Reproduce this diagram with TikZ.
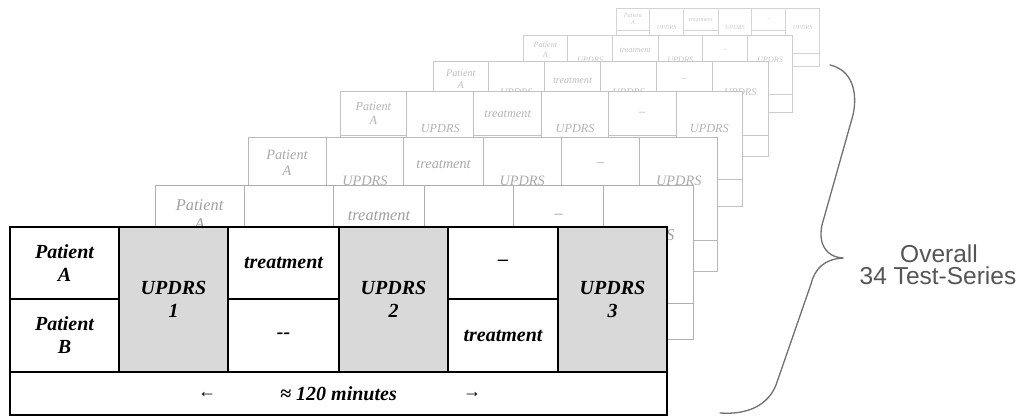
\documentclass[tikz,border=0pt]{standalone}
\usepackage{fontspec}
\setmainfont{Liberation Serif}
\newfontfamily\labelsans{Liberation Sans}
\definecolor{cellgray}{HTML}{D9D9D9}
\definecolor{bracegray}{HTML}{707070}
\definecolor{labelgray}{HTML}{555555}
\definecolor{lineA}{HTML}{AFAFAF}\definecolor{textA}{HTML}{A0A0A0}
\definecolor{lineB}{HTML}{B8B8B8}\definecolor{textB}{HTML}{AAAAAA}
\definecolor{lineC}{HTML}{C2C2C2}\definecolor{textC}{HTML}{B4B4B4}
\definecolor{lineD}{HTML}{C8C8C8}\definecolor{textD}{HTML}{BEBEBE}
\definecolor{lineE}{HTML}{CECECE}\definecolor{textE}{HTML}{C6C6C6}
\definecolor{lineF}{HTML}{D4D4D4}\definecolor{textF}{HTML}{CCCCCC}
\tikzset{
  front/.style={draw=black, line width=1.3pt, fill=white, inner sep=0pt, outer sep=0pt, align=center, font=\bfseries\itshape\fontsize{20}{23}\selectfont},
  frontgray/.style={front, fill=cellgray},
  bcell/.style={draw=#1, line width=0.8pt, fill=white, inner sep=0pt, outer sep=0pt},
  btext/.style={text=#1, inner sep=0pt, align=center, font=\itshape\fontsize{20}{23}\selectfont},
}
\newcommand\backlayer[6]{%
\begin{scope}[shift={(#2,#3)}, scale=#4, transform shape]
  \node[bcell=#5, minimum width=109pt, minimum height=72pt] (#1pa) at (54.5,36) {};
  \node[bcell=#5, minimum width=109pt, minimum height=73pt] (#1pb) at (54.5,108.5) {};
  \node[bcell=#5, minimum width=109pt, minimum height=145pt] (#1ua) at (163.5,72.5) {};
  \node[bcell=#5, minimum width=111pt, minimum height=72pt] (#1ta) at (273.5,36) {};
  \node[bcell=#5, minimum width=111pt, minimum height=73pt] (#1tb) at (273.5,108.5) {};
  \node[bcell=#5, minimum width=109pt, minimum height=145pt] (#1ub) at (383.5,72.5) {};
  \node[bcell=#5, minimum width=110pt, minimum height=72pt] (#1da) at (493,36) {};
  \node[bcell=#5, minimum width=110pt, minimum height=73pt] (#1db) at (493,108.5) {};
  \node[bcell=#5, minimum width=109pt, minimum height=145pt] (#1uc) at (602.5,72.5) {};
  \node[bcell=#5, minimum width=657pt, minimum height=43pt] (#1mn) at (328.5,166.5) {};
  \node[btext=#6] (#1pat) at (54.5,36) {Patient\\A};
  \node[btext=#6, anchor=base] (#1uat) at (163.5,68) {UPDRS};
  \node[btext=#6] (#1tat) at (273.5,38) {treatment};
  \node[btext=#6, anchor=base] (#1ubt) at (383.5,68) {UPDRS};
  \node[btext=#6] (#1dat) at (493,38) {–};
  \node[btext=#6, anchor=base] (#1uct) at (602.5,68) {UPDRS};
\end{scope}}
\begin{document}
\begin{tikzpicture}[x=1pt, y=-1pt]
\fill[white] (0,0) rectangle (1025,419);
\useasboundingbox (0,0) rectangle (1025,419);

% stacked background test series (back to front)
\backlayer{lf}{616}{8}{0.31}{lineF}{textF}
\backlayer{le}{523}{35}{0.41}{lineE}{textE}
\backlayer{ld}{433}{61}{0.51}{lineD}{textD}
\backlayer{lc}{340}{91}{0.613}{lineC}{textC}
\backlayer{lb}{248}{137}{0.715}{lineB}{textB}
\backlayer{la}{155}{185}{0.819}{lineA}{textA}

% front table
\node[front, minimum width=109pt, minimum height=72pt] (pa) at (64.5,263) {Patient\\A};
\node[front, minimum width=109pt, minimum height=73pt] (pb) at (64.5,335.5) {Patient\\B};
\node[frontgray, minimum width=109pt, minimum height=145pt] (ua) at (173.5,299.5) {UPDRS\\1};
\node[front, minimum width=111pt, minimum height=72pt] (ta) at (283.5,263) {treatment};
\node[front, minimum width=111pt, minimum height=73pt] (tb) at (283.5,335.5) {-{}-};
\node[frontgray, minimum width=109pt, minimum height=145pt] (ub) at (393.5,299.5) {UPDRS\\2};
\node[front, minimum width=110pt, minimum height=72pt] (da) at (503,263) {–};
\node[front, minimum width=110pt, minimum height=73pt] (db) at (503,335.5) {treatment};
\node[frontgray, minimum width=109pt, minimum height=145pt] (uc) at (612.5,299.5) {UPDRS\\3};
\node[front, minimum width=657pt, minimum height=43pt] (mn) at (338.5,393.5) {≈ 120 minutes};
\node[font=\fontsize{18}{20}\selectfont, inner sep=0pt] (larr) at (207,395) {←};
\node[font=\fontsize{18}{20}\selectfont, inner sep=0pt] (rarr) at (472,395) {→};

% brace
\coordinate (bracetop) at (830,65);
\coordinate (bracetip) at (843,258);
\coordinate (bracebot) at (720,413);
\draw[bracegray, line width=1.3pt, line cap=round]
  (bracetop) .. controls (852,70) and (858,92) .. (853,115)
  -- (822,225) .. controls (818,244) and (826,257) .. (bracetip);
\draw[bracegray, line width=1.3pt, line cap=round]
  (bracetip) .. controls (825,259) and (815,268) .. (811,284)
  -- (776,385) .. controls (768,405) and (748,415) .. (bracebot);

\node[labelgray, font=\labelsans\fontsize{24.5}{22}\selectfont, anchor=base, inner sep=0pt] (ov1) at (939,263) {Overall};
\node[labelgray, font=\labelsans\fontsize{24.5}{22}\selectfont, anchor=base, inner sep=0pt] (ov2) at (938,285) {34 Test-Series};
\end{tikzpicture}
\end{document}
